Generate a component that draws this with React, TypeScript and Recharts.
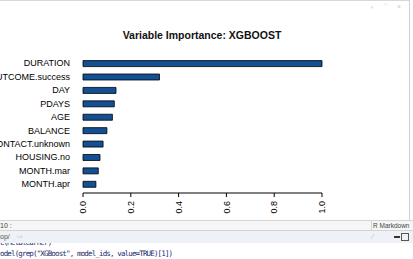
import React from "react";
import { BarChart, Bar, XAxis, YAxis } from "recharts";

const variables = [
  "DURATION",
  "POUTCOME.success",
  "DAY",
  "PDAYS",
  "AGE",
  "BALANCE",
  "CONTACT.unknown",
  "HOUSING.no",
  "MONTH.mar",
  "MONTH.apr",
];
const importance = [1.0, 0.32, 0.138, 0.131, 0.123, 0.1, 0.084, 0.071, 0.064, 0.054];
const xTicks = [0, 0.2, 0.4, 0.6, 0.8, 1.0];
const title = "Variable Importance: XGBOOST";

const data = variables.map((name, i) => ({ name, value: importance[i] }));

const FONT = "'Liberation Sans', Arial, Helvetica, sans-serif";

const RotTick = (props: any) => {
  const { x, y, payload } = props;
  return (
    <g transform={`translate(${x},${y})`}>
      <text
        transform="rotate(-90)"
        textAnchor="end"
        dy="0.36em"
        fontSize={9}
        fontFamily={FONT}
        fill="#000"
      >
        {Number(payload.value).toFixed(1)}
      </text>
    </g>
  );
};

const CatTick = (props: any) => {
  const { x, y, payload } = props;
  return (
    <text
      x={x}
      y={y}
      dy="0.35em"
      textAnchor="end"
      fontSize={9}
      fontFamily={FONT}
      fill="#000"
    >
      {payload.value}
    </text>
  );
};

export default function App() {
  return (
    <div
      style={{
        position: "absolute",
        left: 0,
        top: 0,
        width: 413,
        height: 259,
        background: "#fff",
        overflow: "hidden",
        fontFamily: FONT,
      }}
    >
      <div style={{ position: "absolute", left: 0, top: 0, width: 410, height: 1, background: "#d8d8d8" }} />
      <div style={{ position: "absolute", left: 409, top: 0, width: 1, height: 230, background: "#d0d0d0" }} />
      <div style={{ position: "absolute", left: 370, top: 3, fontSize: 7, color: "#c8c8c8", letterSpacing: 4, whiteSpace: "nowrap" }}>
        ⌕ ⌃ ×
      </div>
      <div
        style={{
          position: "absolute",
          left: 0,
          top: 28,
          width: 404,
          textAlign: "center",
          fontWeight: "bold",
          fontSize: 10.5,
          color: "#111",
          lineHeight: "14px",
        }}
      >
        {title}
      </div>
      <div style={{ position: "absolute", left: 0, top: 0 }}>
        <BarChart
          width={409}
          height={220}
          layout="vertical"
          data={data}
          margin={{ top: 56.6, right: 87, bottom: 0, left: 0 }}
        >
          <XAxis
            type="number"
            domain={[0, 1]}
            ticks={xTicks}
            height={27}
            axisLine={{ stroke: "#000" }}
            tickLine={{ stroke: "#000" }}
            tickSize={4}
            tickMargin={4}
            tick={<RotTick />}
            interval={0}
          />
          <YAxis
            type="category"
            dataKey="name"
            width={83}
            axisLine={false}
            tickLine={false}
            tickSize={0}
            tickMargin={13}
            tick={<CatTick />}
            interval={0}
            padding={{ top: 0, bottom: 2.3 }}
          />
          <Bar
            dataKey="value"
            fill="#124f93"
            stroke="#000"
            strokeWidth={0.8}
            barSize={6}
            isAnimationActive={false}
          />
        </BarChart>
      </div>
      {/* RStudio panel chrome below the plot */}
      <div style={{ position: "absolute", left: 0, top: 220, width: 413, height: 1, background: "#d4d4d4" }} />
      <div style={{ position: "absolute", left: 0, top: 221, width: 413, height: 9, background: "#f6f6f6" }} />
      <div style={{ position: "absolute", left: 0, top: 221, fontSize: 7, lineHeight: "9px", color: "#444", whiteSpace: "nowrap" }}>10 :</div>
      <div style={{ position: "absolute", left: 371, top: 221, width: 1, height: 9, background: "#d4d4d4" }} />
      <div style={{ position: "absolute", left: 373, top: 221, fontSize: 6.5, lineHeight: "9px", color: "#444", whiteSpace: "nowrap" }}>R Markdown</div>
      <div style={{ position: "absolute", left: 0, top: 230, width: 413, height: 1, background: "#d4d4d4" }} />
      <div style={{ position: "absolute", left: 0, top: 231, width: 413, height: 12, background: "#eef2f6" }} />
      <div style={{ position: "absolute", left: 0, top: 232, fontSize: 7, lineHeight: "9px", color: "#555", whiteSpace: "nowrap" }}>
        op/
      </div>
      <div style={{ position: "absolute", left: 17, top: 232, fontSize: 7, lineHeight: "9px", color: "#b8c4d0", whiteSpace: "nowrap" }}>
        ⇨
      </div>
      <div style={{ position: "absolute", left: 372, top: 232, fontSize: 7, lineHeight: "9px", color: "#bbb" }}>⁄</div>
      <div style={{ position: "absolute", left: 394, top: 236, width: 6, height: 2, background: "#333" }} />
      <div style={{ position: "absolute", left: 401, top: 233, width: 6, height: 6, border: "1px solid #555" }} />
      <div
        style={{
          position: "absolute",
          left: 0,
          top: 243,
          height: 4,
          overflow: "hidden",
          width: 120,
        }}
      >
        <div
          style={{
            marginTop: -5,
            fontFamily: "'DejaVu Sans Mono', monospace",
            fontSize: 7.5,
            letterSpacing: -0.85,
            color: "#1b2a6b",
            lineHeight: "10px",
            whiteSpace: "pre",
          }}
        >
          c(Metalearner)
        </div>
      </div>
      <div
        style={{
          position: "absolute",
          left: 0,
          top: 249,
          fontFamily: "'DejaVu Sans Mono', monospace",
          fontSize: 7.5,
          letterSpacing: -0.85,
          color: "#1b2a6b",
          lineHeight: "10px",
          whiteSpace: "pre",
        }}
      >
        {'odel(grep("XGBoost", model_ids, value=TRUE)[1])'}
      </div>
    </div>
  );
}
